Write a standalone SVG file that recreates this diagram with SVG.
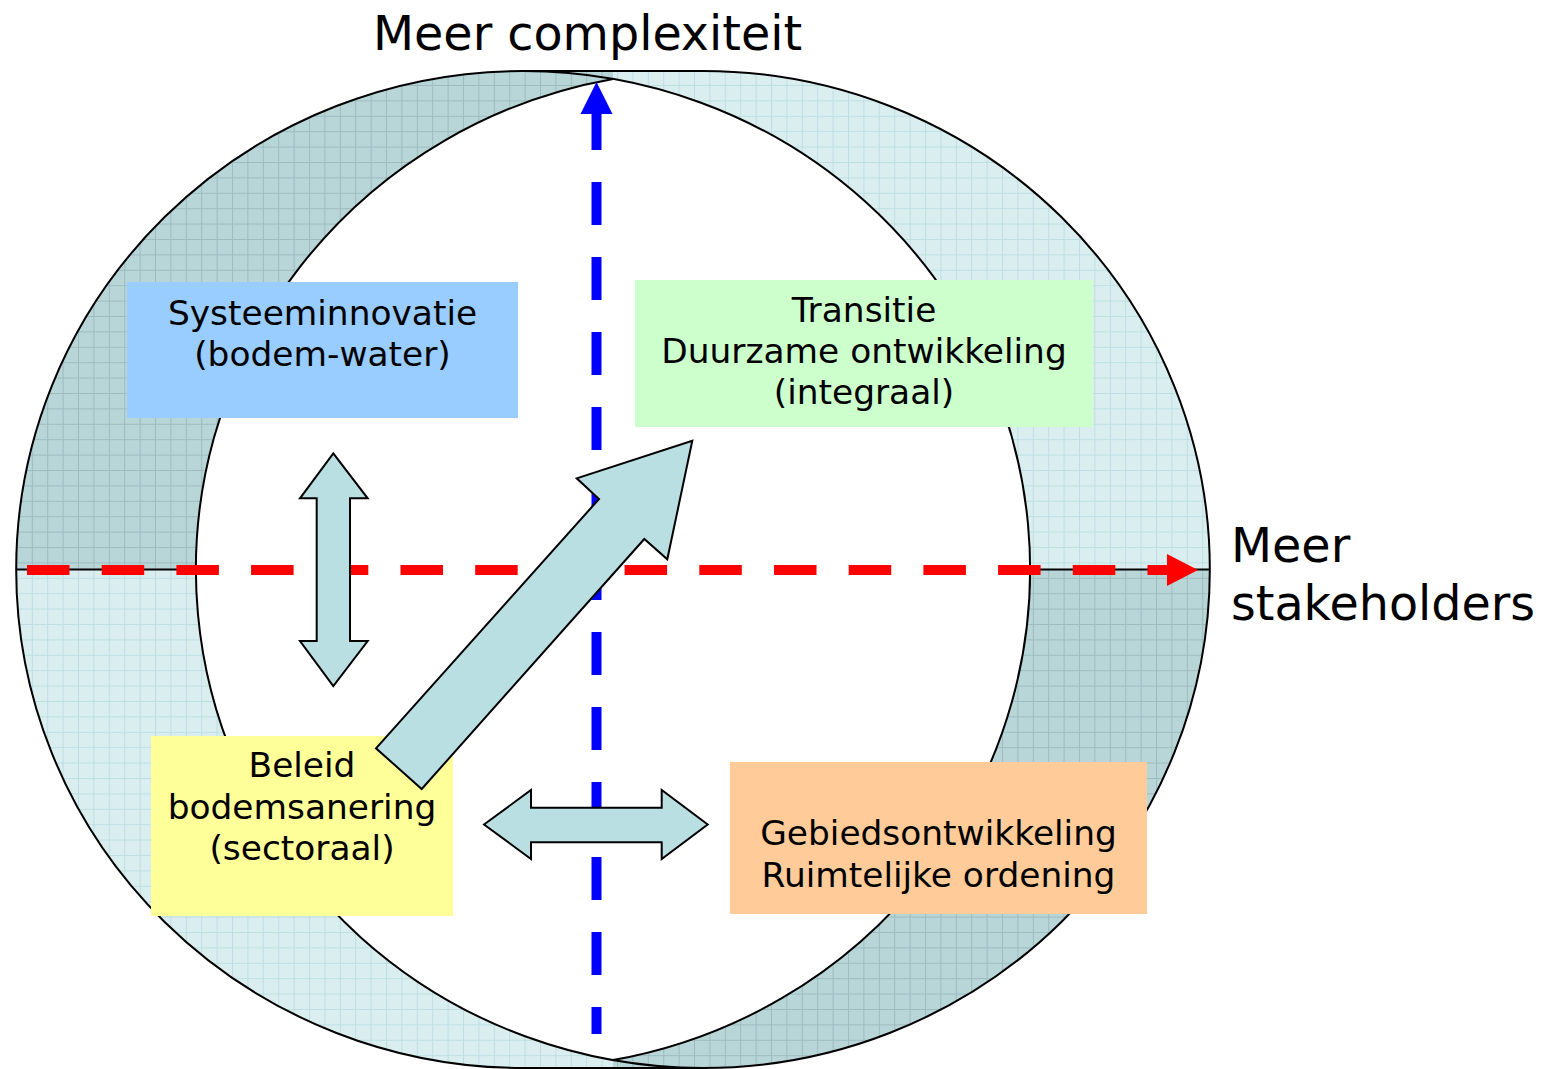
<svg xmlns="http://www.w3.org/2000/svg" width="1542" height="1069" viewBox="0 0 1542 1069">
<defs>
<pattern id="gridL" width="15.4" height="15.4" patternUnits="userSpaceOnUse" x="1" y="8">
<rect width="15.4" height="15.4" fill="#daeef0"/>
<path d="M0 0.5H15.4M0.5 0V15.4" stroke="#bcdfe2" stroke-width="1" fill="none"/>
</pattern>
<pattern id="gridD" width="15.4" height="15.4" patternUnits="userSpaceOnUse" x="1" y="8">
<rect width="15.4" height="15.4" fill="#b8d5d8"/>
<path d="M0 0.5H15.4M0.5 0V15.4" stroke="#9dbcbf" stroke-width="1" fill="none"/>
</pattern>
<style>
.ol{fill:none;stroke:#000;stroke-width:2}
.blk{fill:#badfe2;stroke:#000;stroke-width:2;stroke-linejoin:miter}
.t{font-family:"DejaVu Sans","Verdana",sans-serif;fill:#000}
.bt{font-size:34.4px;text-anchor:middle}
.ax{font-size:47.6px}
</style>
</defs>
<g id="ring">
<path d="M523,71 L703,71 A507,498.5 0 0 1 703,1068 L523,1068 A507,498.5 0 0 1 523,71 Z" fill="url(#gridL)"/>
<path d="M16,569.5 A507,498.5 0 0 1 523,71 L613,71 L613,78.9 A507,498.5 0 0 0 196,569.5 Z" fill="url(#gridD)"/>
<path d="M1210,569.5 A507,498.5 0 0 1 703,1068 L613,1068 L613,1060.1 A507,498.5 0 0 0 1030,569.5 Z" fill="url(#gridD)"/>
<path d="M613,78.9 A507,498.5 0 0 0 613,1060.1 A507,498.5 0 0 0 613,78.9 Z" fill="#fff"/>
<path class="ol" d="M523,71 L703,71 A507,498.5 0 0 1 703,1068 L523,1068 A507,498.5 0 0 1 523,71 Z"/>
<path class="ol" d="M523,71 A507,498.5 0 0 1 613,1060.1"/>
<path class="ol" d="M613,78.9 A507,498.5 0 0 0 703,1068"/>
<path class="ol" d="M16,569.5H196M1030,569.5H1210"/>
</g>
<g id="connectors">
<path d="M27,570 L1167,570" stroke="#ff0000" stroke-width="10" stroke-dasharray="42.5 32.2" fill="none"/>
<polygon points="1167,554 1198,570 1167,586" fill="#ff0000"/>
<path d="M596.5,107 L596.5,1034" stroke="#0000ff" stroke-width="10" stroke-dasharray="43 32" fill="none"/>
<polygon points="596.5,82 612.5,114 580.5,114" fill="#0000ff"/>
</g>
<g id="box-systeem">
<rect x="127" y="282" width="391" height="136" fill="#99ccff"/>
<text class="t bt" x="322.5" y="325">Systeeminnovatie</text>
<text class="t bt" x="322.5" y="366">(bodem-water)</text>
</g>
<g id="box-transitie">
<rect x="635" y="280" width="458" height="147" fill="#ccffcc"/>
<text class="t bt" x="864" y="322">Transitie</text>
<text class="t bt" x="864" y="363">Duurzame ontwikkeling</text>
<text class="t bt" x="864" y="404">(integraal)</text>
</g>
<g id="box-beleid">
<rect x="151" y="736" width="302" height="180" fill="#ffff99"/>
<text class="t bt" x="302" y="777">Beleid</text>
<text class="t bt" x="302" y="819">bodemsanering</text>
<text class="t bt" x="302" y="860">(sectoraal)</text>
</g>
<g id="box-gebied">
<rect x="730" y="762" width="417" height="152" fill="#ffcc99"/>
<text class="t bt" x="938.5" y="845">Gebiedsontwikkeling</text>
<text class="t bt" x="938.5" y="887">Ruimtelijke ordening</text>
</g>
<g id="arrow-vertical">
<polygon class="blk" points="333.3,453.3 367.7,498.3 350,498.3 350,641 367.7,641 333.3,686 300,641 316.7,641 316.7,498.3 300,498.3"/>
</g>
<g id="arrow-horizontal">
<polygon class="blk" points="484,824.5 531,790 531,807.7 661.7,807.7 661.7,790 707.7,824.5 661.7,859 661.7,842.3 531,842.3 531,859"/>
</g>
<g id="arrow-diagonal">
<polygon class="blk" points="692.3,440.7 667.3,559.3 644.3,539 421.7,789 376,748.3 599,499 576.7,478.3"/>
</g>
<g id="labels">
<text class="t ax" x="373" y="50">Meer complexiteit</text>
<text class="t ax" x="1231" y="562">Meer</text>
<text class="t ax" x="1231" y="620">stakeholders</text>
</g>
</svg>
